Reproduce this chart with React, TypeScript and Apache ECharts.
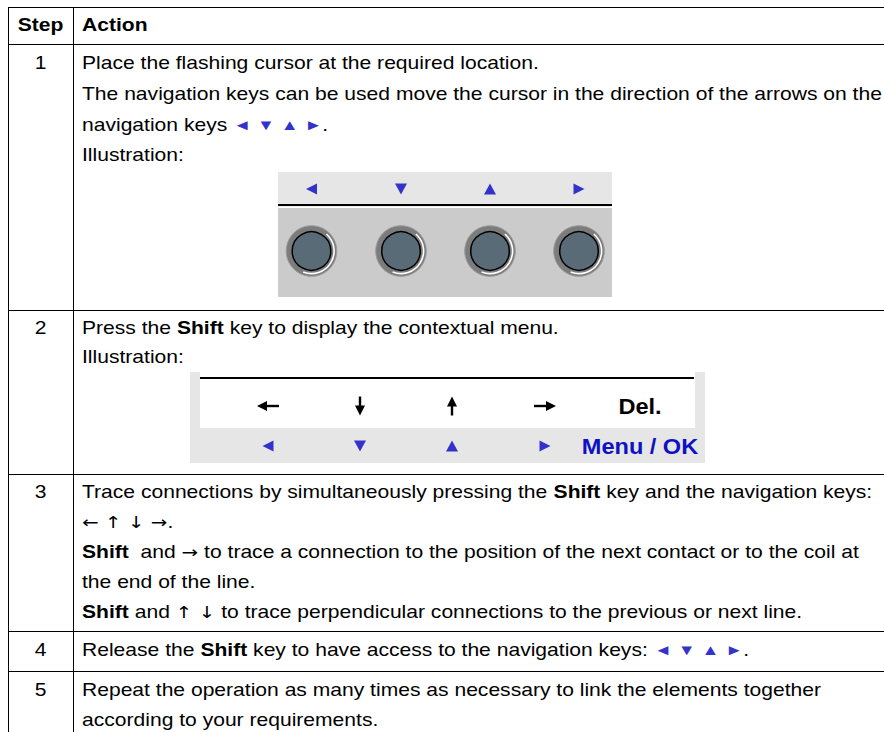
import React, { useEffect, useRef } from "react";
import * as echarts from "echarts";

// ---------- content ----------
const headers = ["Step", "Action"];
const stepNumbers = ["1", "2", "3", "4", "5"];
const row1Lines = [
  "Place the flashing cursor at the required location.",
  "The navigation keys can be used move the cursor in the direction of the arrows on the",
  "navigation keys {t|◄} {t|▼} {t|▲} {t|►}.",
  "Illustration:",
];
const row2Lines = ["Press the {b|Shift} key to display the contextual menu.", "Illustration:"];
const row3Lines = [
  "Trace connections by simultaneously pressing the {b|Shift} key and the navigation keys:",
  "{a|← ↑ ↓ →}.",
  "{b|Shift}  and {a|→} to trace a connection to the position of the next contact or to the coil at",
  "the end of the line.",
  "{b|Shift} and {a|↑ ↓} to trace perpendicular connections to the previous or next line.",
];
const row4Lines = ["Release the {b|Shift} key to have access to the navigation keys: {t|◄} {t|▼} {t|▲} {t|►}."];
const row5Lines = [
  "Repeat the operation as many times as necessary to link the elements together",
  "according to your requirements.",
];
const menuLabels = ["Del.", "Menu / OK"];
const navDirections = ["left", "down", "up", "right"];

// ---------- layout ----------
const FONT = '"Liberation Sans", Arial, Helvetica, sans-serif';
const FS = 17.5;
const SX = 1.205;
const TABLE_LEFT = 8;
const TABLE_RIGHT = 890;
const COL_DIV = 73;
const rowBorders = [7, 44, 310, 474, 631, 671];
const TABLE_BOTTOM = 760;
const headerY = 25;
const rowLineYs = [
  [63, 94, 125, 155],
  [328, 357],
  [492, 522, 552, 582, 612],
  [650],
  [690, 720],
];
const rowsText = [row1Lines, row2Lines, row3Lines, row4Lines, row5Lines];
const TEXT_X = 82;
const STEP_X = 40.5;

const ill1 = { x: 278, y: 172, w: 334, h: 125, keyXs: [311.5, 401, 490, 579], triY: 189, btnY: 251 };
const ill2 = { x: 190, y: 372, w: 515, h: 91, keyXs: [268, 360, 452, 545], arrowY: 406, triY: 446, labelX: 640 };

const BLUE = "#3333cc";
const rich = {
  b: { fontWeight: "bold", fontSize: FS, fontFamily: FONT, fill: "#000" },
  t: { fontSize: 15, fontFamily: FONT, fill: BLUE, verticalAlign: "middle" },
  a: { fontSize: 16.5, fontFamily: '"DejaVu Sans", sans-serif', fill: "#000", fontWeight: "normal", verticalAlign: "middle" },
};

function textEl(x: number, y: number, text: string, opts: any = {}) {
  const align = opts.align || "left";
  return {
    type: "text",
    x,
    y,
    scaleX: opts.sx ?? SX,
    z: 10,
    silent: true,
    style: {
      text,
      fill: opts.fill || "#000",
      fontSize: opts.fs || FS,
      fontFamily: FONT,
      fontWeight: opts.bold ? "bold" : "normal",
      textAlign: align,
      align,
      textVerticalAlign: "middle",
      verticalAlign: "middle",
      rich,
    },
  };
}

function tri(cx: number, cy: number, dir: string, w: number, h: number, fill: string) {
  let pts: number[][];
  if (dir === "left") pts = [[cx - w / 2, cy], [cx + w / 2, cy - h / 2], [cx + w / 2, cy + h / 2]];
  else if (dir === "right") pts = [[cx + w / 2, cy], [cx - w / 2, cy - h / 2], [cx - w / 2, cy + h / 2]];
  else if (dir === "up") pts = [[cx, cy - h / 2], [cx - w / 2, cy + h / 2], [cx + w / 2, cy + h / 2]];
  else pts = [[cx, cy + h / 2], [cx - w / 2, cy - h / 2], [cx + w / 2, cy - h / 2]];
  return { type: "polygon", z: 5, silent: true, shape: { points: pts }, style: { fill } };
}

function arrow(cx: number, cy: number, dir: string) {
  const hl = 10; // head length
  const hw = 5; // head half width
  const els: any[] = [];
  if (dir === "left" || dir === "right") {
    const L = 11;
    const s = dir === "left" ? -1 : 1;
    const tipX = cx + s * L;
    els.push({ type: "line", z: 5, silent: true, shape: { x1: cx - s * L, y1: cy, x2: tipX - s * hl + s * 1, y2: cy }, style: { stroke: "#000", lineWidth: 2.4 } });
    els.push({ type: "polygon", z: 5, silent: true, shape: { points: [[tipX, cy], [tipX - s * hl, cy - hw], [tipX - s * hl, cy + hw]] }, style: { fill: "#000" } });
  } else {
    const s = dir === "up" ? -1 : 1;
    const L2 = 9.5;
    const tipY = cy + s * L2;
    els.push({ type: "line", z: 5, silent: true, shape: { x1: cx, y1: cy - s * L2, x2: cx, y2: tipY - s * hl + s * 1 }, style: { stroke: "#000", lineWidth: 2.4 } });
    els.push({ type: "polygon", z: 5, silent: true, shape: { points: [[cx, tipY], [cx - hw, tipY - s * hl], [cx + hw, tipY - s * hl]] }, style: { fill: "#000" } });
  }
  return els;
}

function button(cx: number, cy: number) {
  return [
    { type: "circle", z: 4, silent: true, shape: { cx, cy, r: 25.3 }, style: { fill: "#7c7c7c", stroke: "#9c9c9c", lineWidth: 1 } },
    { type: "arc", z: 5, silent: true, shape: { cx, cy, r: 22.6, startAngle: -0.85, endAngle: 1.95, clockwise: true }, style: { stroke: "#ffffff", lineWidth: 1.6, fill: "none" } },
    { type: "circle", z: 6, silent: true, shape: { cx, cy, r: 19.3 }, style: { fill: "#5a6b78", stroke: "#000", lineWidth: 1.5 } },
  ];
}

function buildElements() {
  const els: any[] = [];
  els.push({ type: "rect", z: 0, silent: true, shape: { x: 0, y: 0, width: 884, height: 732 }, style: { fill: "#fff" } });

  // table lines
  rowBorders.forEach((y) => {
    els.push({ type: "line", z: 3, silent: true, shape: { x1: TABLE_LEFT, y1: y + 0.5, x2: TABLE_RIGHT, y2: y + 0.5 }, style: { stroke: "#000", lineWidth: 1 } });
  });
  [TABLE_LEFT, COL_DIV].forEach((x) => {
    els.push({ type: "line", z: 3, silent: true, shape: { x1: x + 0.5, y1: rowBorders[0], x2: x + 0.5, y2: TABLE_BOTTOM }, style: { stroke: "#000", lineWidth: 1 } });
  });

  // header
  els.push(textEl(STEP_X, headerY, headers[0], { bold: true, align: "center" }));
  els.push(textEl(TEXT_X, headerY, headers[1], { bold: true }));

  // rows
  rowsText.forEach((lines, i) => {
    els.push(textEl(STEP_X, rowLineYs[i][0], stepNumbers[i], { align: "center" }));
    lines.forEach((ln, j) => {
      els.push(textEl(TEXT_X, rowLineYs[i][j], ln));
    });
  });

  // illustration 1
  els.push({ type: "rect", z: 1, silent: true, shape: { x: ill1.x, y: ill1.y, width: ill1.w, height: 33 }, style: { fill: "#e6e6e6" } });
  els.push({ type: "rect", z: 1, silent: true, shape: { x: ill1.x, y: ill1.y + 36, width: ill1.w, height: ill1.h - 36 }, style: { fill: "#cbcbcb" } });
  els.push({ type: "rect", z: 2, silent: true, shape: { x: ill1.x, y: 204, width: ill1.w, height: 2.2 }, style: { fill: "#000" } });
  els.push({ type: "rect", z: 2, silent: true, shape: { x: ill1.x, y: 206.2, width: ill1.w, height: 1.8 }, style: { fill: "#fff" } });
  ill1.keyXs.forEach((x, k) => {
    const horiz = navDirections[k] === "left" || navDirections[k] === "right";
    els.push(tri(x, ill1.triY, navDirections[k], horiz ? 11 : 12, 11, BLUE));
    button(x, ill1.btnY).forEach((e) => els.push(e));
  });

  // illustration 2
  els.push({ type: "rect", z: 1, silent: true, shape: { x: ill2.x, y: ill2.y, width: ill2.w, height: ill2.h }, style: { fill: "#e6e6e6" } });
  els.push({ type: "rect", z: 2, silent: true, shape: { x: 200, y: ill2.y, width: 495, height: 56 }, style: { fill: "#fff" } });
  els.push({ type: "rect", z: 3, silent: true, shape: { x: 200, y: 377, width: 494, height: 2 }, style: { fill: "#000" } });
  ill2.keyXs.forEach((x, k) => {
    const horiz = navDirections[k] === "left" || navDirections[k] === "right";
    arrow(x, ill2.arrowY, navDirections[k]).forEach((e) => els.push(e));
    els.push(tri(x, ill2.triY, navDirections[k], horiz ? 11 : 12, 11, BLUE));
  });
  els.push(textEl(ill2.labelX, ill2.arrowY, menuLabels[0], { bold: true, align: "center", fs: 22, sx: 1.07 }));
  els.push(textEl(ill2.labelX, ill2.triY, menuLabels[1], { bold: true, align: "center", fs: 22, sx: 1.07, fill: "#1010c4" }));

  return els;
}

export default function App() {
  const ref = useRef<HTMLDivElement>(null);
  useEffect(() => {
    const chart = echarts.init(ref.current!, null, { renderer: "svg" });
    chart.setOption({ animation: false, graphic: { elements: buildElements() } });
    return () => chart.dispose();
  }, []);
  return (
    <div
      ref={ref}
      style={{ position: "absolute", left: 0, top: 0, width: 884, height: 732, background: "#fff" }}
    />
  );
}
